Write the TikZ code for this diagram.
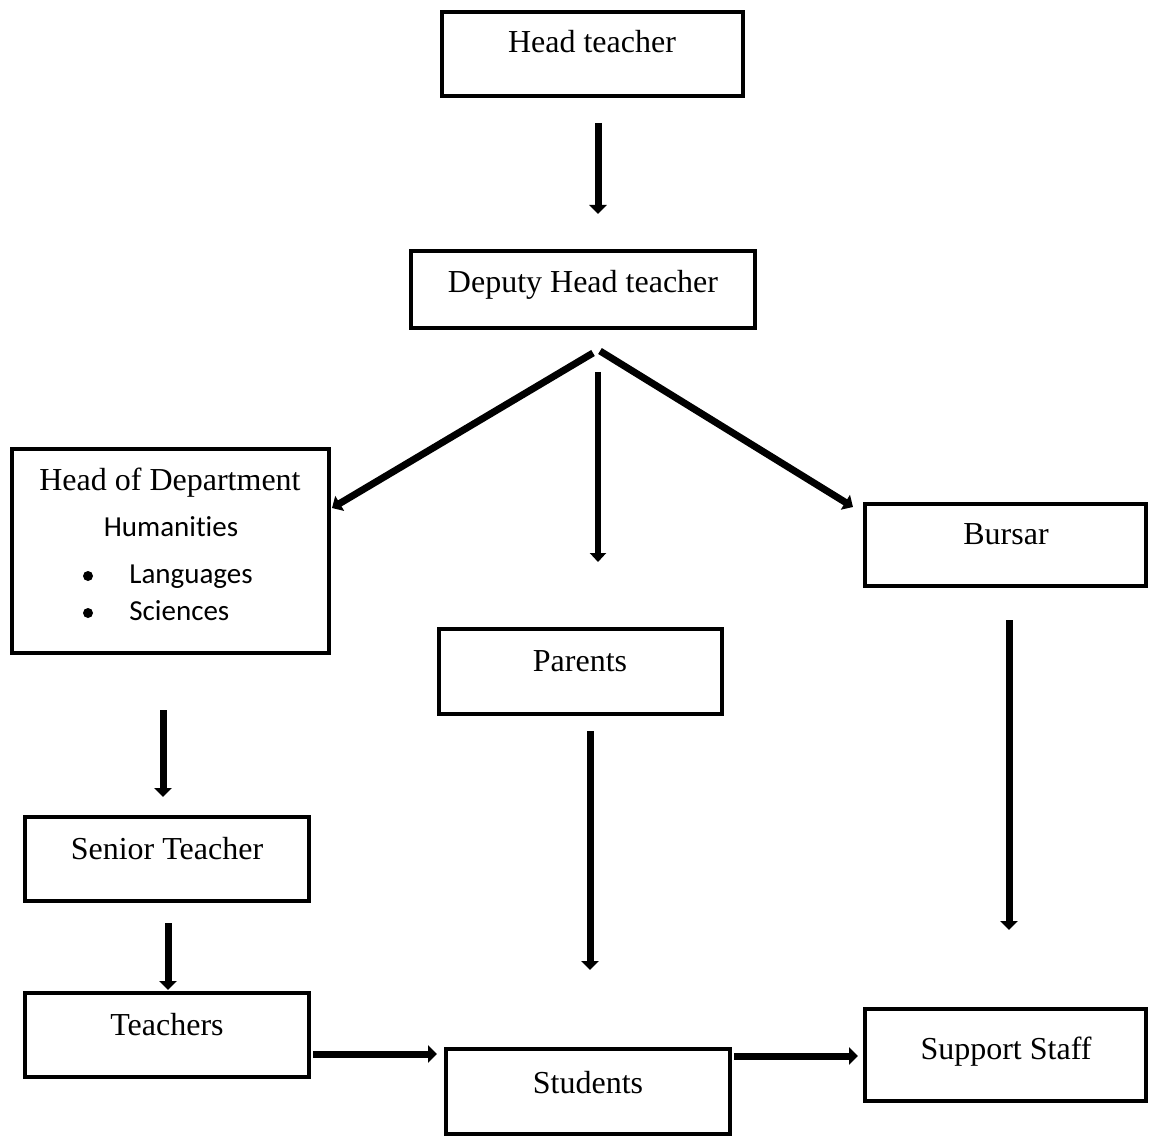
\documentclass[tikz,border=0pt]{standalone}
\usepackage{fontspec}
\setmainfont{Liberation Serif}
\newfontfamily\calib[Ligatures=NoCommon]{Carlito}
\usetikzlibrary{arrows.meta}
\begin{document}
\begin{tikzpicture}[x=0.5pt,y=-0.5pt,
  box/.style={draw=black, line width=2pt, rectangle, inner sep=0pt, fill=white},
  lbl/.style={anchor=base, inner sep=0pt, font=\fontsize{16}{19}\selectfont},
  sublbl/.style={anchor=base, inner sep=0pt, font=\calib\fontsize{14.5}{17}\selectfont},
  bulletdot/.style={circle, fill=black, inner sep=0pt, minimum size=5pt},
  arr/.style={line width=3.5pt, -{Triangle[width=8.5pt,length=4.5pt]}},
  arrthin/.style={line width=2.6pt, -{Triangle[width=8pt,length=4.5pt]}}]
\useasboundingbox (0,0) rectangle (1150,1138);
\fill[white] (0,0) rectangle (1150,1138);

% boxes
\node[box, minimum width=150.5pt, minimum height=42pt] (ht) at (592.5,54) {};
\node[box, minimum width=172pt, minimum height=38.5pt] (dh) at (583,289.5) {};
\node[box, minimum width=158.5pt, minimum height=102pt] (hod) at (170.5,551) {};
\node[box, minimum width=140.5pt, minimum height=41pt] (bur) at (1005.5,545) {};
\node[box, minimum width=141.5pt, minimum height=42.5pt] (par) at (580.5,671.5) {};
\node[box, minimum width=142pt, minimum height=42pt] (sen) at (167,859) {};
\node[box, minimum width=142pt, minimum height=42pt] (tea) at (167,1035) {};
\node[box, minimum width=142pt, minimum height=42.5pt] (stu) at (588,1091.5) {};
\node[box, minimum width=140.5pt, minimum height=46pt] (sup) at (1005.5,1055) {};

% texts
\node[lbl] (htT) at (592,53) {Head teacher};
\node[lbl] (dhT) at (583,293) {Deputy Head teacher};
\node[lbl] (hodT) at (170,491) {Head of Department};
\node[sublbl] (humT) at (171,536) {Humanities};
\node[bulletdot] (b1) at (88,576) {};
\node[sublbl, anchor=base west] (langT) at (129,583) {Languages};
\node[bulletdot] (b2) at (88,613) {};
\node[sublbl, anchor=base west] (sciT) at (129,620) {Sciences};
\node[lbl] (burT) at (1006,544) {Bursar};
\node[lbl] (parT) at (580,671) {Parents};
\node[lbl] (senT) at (167,859) {Senior Teacher};
\node[lbl] (teaT) at (167,1035) {Teachers};
\node[lbl] (stuT) at (588,1093) {Students};
\node[lbl] (supT) at (1006,1059) {Support Staff};

% connector end points
\coordinate (a1s) at (598,123);  \coordinate (a1e) at (598,214);
\coordinate (a2s) at (598,372);  \coordinate (a2e) at (598,562);
\coordinate (a3s) at (593,353);  \coordinate (a3e) at (332,508);
\coordinate (a4s) at (600,351);  \coordinate (a4e) at (853,507);
\coordinate (a5s) at (163,710);  \coordinate (a5e) at (163,797);
\coordinate (a6s) at (168,923);  \coordinate (a6e) at (168,990);
\coordinate (a7s) at (590,731);  \coordinate (a7e) at (590,970);
\coordinate (a8s) at (1009,620); \coordinate (a8e) at (1009,930);
\coordinate (a9s) at (313,1054); \coordinate (a9e) at (437,1054);
\coordinate (a10s) at (734,1056); \coordinate (a10e) at (858,1056);

% connectors
\draw[arr] (a1s) -- (a1e);
\draw[arrthin] (a2s) -- (a2e);
\draw[arr] (a3s) -- (a3e);
\draw[arr] (a4s) -- (a4e);
\draw[arr] (a5s) -- (a5e);
\draw[arr] (a6s) -- (a6e);
\draw[arr] (a7s) -- (a7e);
\draw[arr] (a8s) -- (a8e);
\draw[arr] (a9s) -- (a9e);
\draw[arr] (a10s) -- (a10e);
\end{tikzpicture}
\end{document}
